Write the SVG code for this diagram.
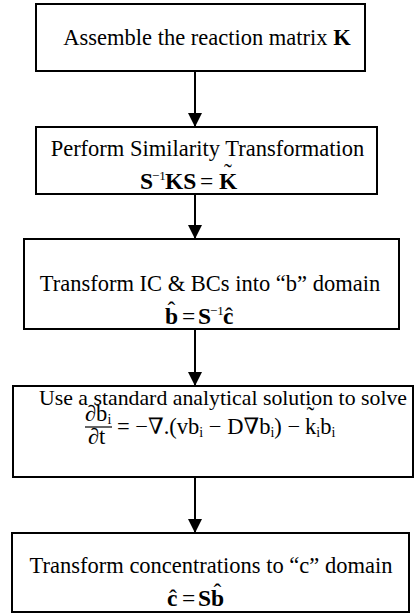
<svg xmlns="http://www.w3.org/2000/svg" width="418" height="614" viewBox="0 0 418 614">
<style>
.box{fill:#fff;stroke:#000;stroke-width:2}
.t{font-family:"Liberation Serif","Times New Roman","DejaVu Serif",serif;font-size:22.5px;fill:#000}
.f{font-family:"Liberation Serif","Times New Roman","DejaVu Serif",serif;font-size:23.5px;fill:#000}
.m{font-family:"Liberation Serif","Times New Roman","DejaVu Serif",serif;font-size:22.5px;fill:#000}
.sup{font-size:13px}
.sub{font-size:14px}
.b{font-weight:bold}
.c{text-anchor:middle}
.conn{stroke:#000;stroke-width:2;fill:none}
</style>
<defs>
<marker id="ah" markerUnits="userSpaceOnUse" markerWidth="14" markerHeight="14" refX="14" refY="7" orient="auto">
<path d="M0,0 L14,7 L0,14 Z" fill="#000"/>
</marker>
</defs>
<g id="connectors">
<line class="conn" x1="195" y1="71" x2="195" y2="127" marker-end="url(#ah)"/>
<line class="conn" x1="195" y1="194" x2="195" y2="239" marker-end="url(#ah)"/>
<line class="conn" x1="195" y1="329" x2="195" y2="386" marker-end="url(#ah)"/>
<line class="conn" x1="195" y1="477" x2="195" y2="533" marker-end="url(#ah)"/>
</g>
<g id="node1">
<rect class="box" x="36" y="4" width="329" height="67"/>
<text class="t c" x="207" y="45">Assemble the reaction matrix <tspan class="b">K</tspan></text>
</g>
<g id="node2">
<rect class="box" x="36" y="127" width="341" height="67"/>
<text class="t c" x="207.5" y="156">Perform Similarity Transformation</text>
<text class="f b" x="140" y="189">S</text>
<text class="f sup" x="152" y="180">−1</text>
<text class="f b" x="165" y="189">KS</text>
<text class="f" x="200" y="189">=</text>
<text class="f b" x="219" y="189">K</text>
<text class="f c" x="228" y="180">˜</text>
</g>
<g id="node3">
<rect class="box" x="24" y="239" width="375" height="90"/>
<text class="t c" x="210" y="291">Transform IC &amp; BCs into “b” domain</text>
<text class="f b" x="165" y="324">b</text>
<text class="f c" x="171.5" y="318">ˆ</text>
<text class="f" x="182" y="324">=</text>
<text class="f b" x="198" y="324">S</text>
<text class="f sup" x="210" y="315">−1</text>
<text class="f b" x="223" y="324">c</text>
<text class="f c" x="229" y="324">ˆ</text>
</g>
<g id="node4">
<rect class="box" x="13" y="386" width="400" height="91"/>
<text class="t c" x="223" y="405" style="font-size:21.8px">Use a standard analytical solution to solve</text>
<text class="m" x="85" y="421">∂b<tspan class="sub" dy="3">i</tspan></text>
<line x1="85" y1="427" x2="112" y2="427" stroke="#000" stroke-width="1.2"/>
<text class="m" x="88" y="444">∂t</text>
<text class="m" x="117" y="434">= −∇.(vb<tspan class="sub" dy="3">i</tspan><tspan dy="-3"> − D∇b</tspan><tspan class="sub" dy="3">i</tspan><tspan dy="-3">) −</tspan></text>
<text class="m" x="305" y="434">k<tspan class="sub" dy="3">i</tspan><tspan dy="-3">b</tspan><tspan class="sub" dy="3">i</tspan></text>
<text class="m c" x="310.5" y="423">˜</text>
</g>
<g id="node5">
<rect class="box" x="12" y="533" width="397" height="79"/>
<text class="t c" x="211" y="573">Transform concentrations to “c” domain</text>
<text class="f b" x="167" y="606">c</text>
<text class="f c" x="173" y="606">ˆ</text>
<text class="f" x="182" y="606">=</text>
<text class="f b" x="198" y="606">S</text>
<text class="f b" x="211" y="606">b</text>
<text class="f c" x="217.5" y="600">ˆ</text>
</g>
</svg>
